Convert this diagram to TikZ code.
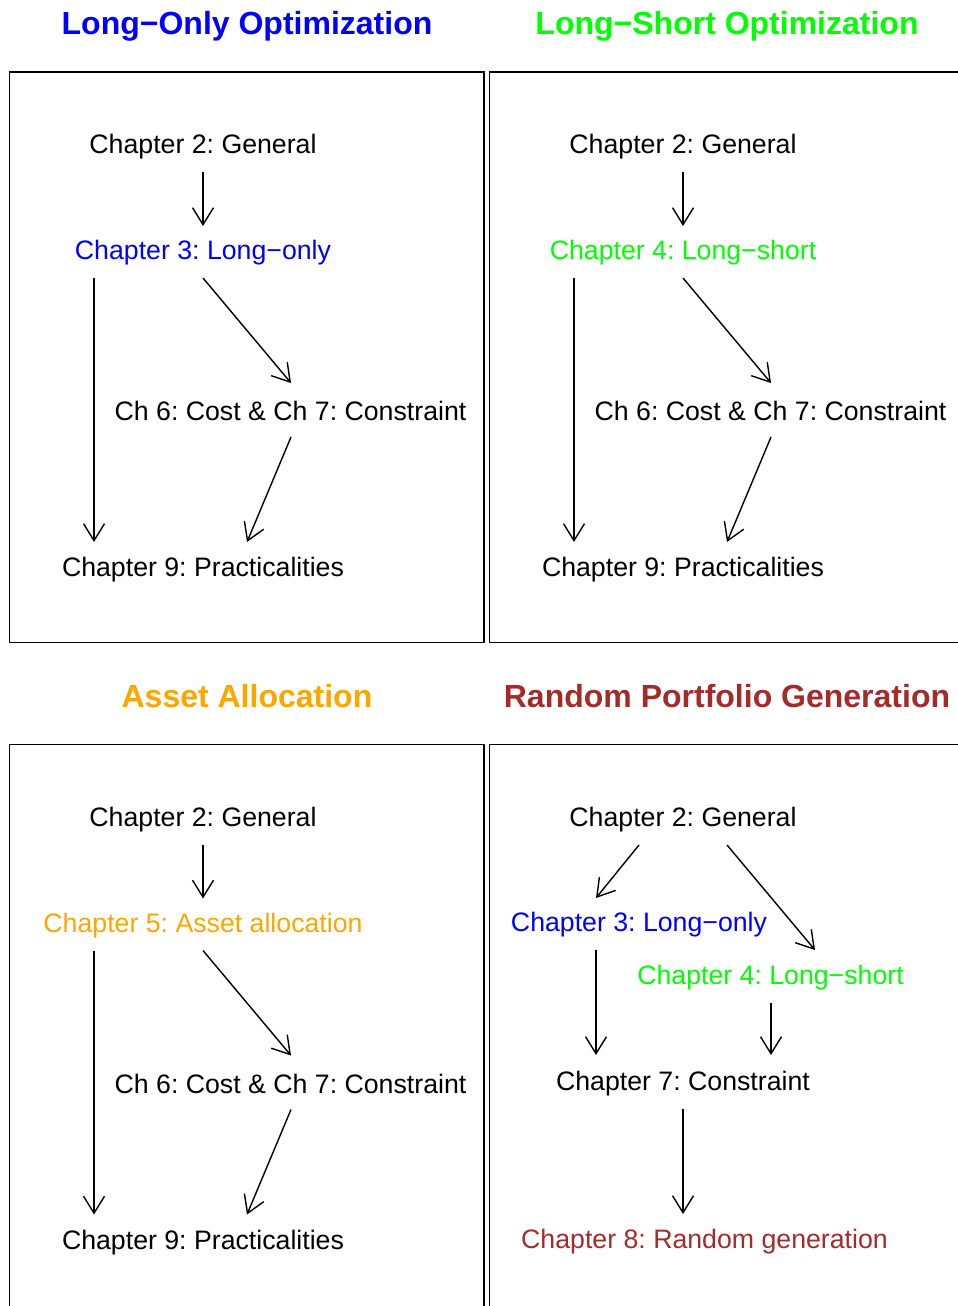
\documentclass[tikz,border=0pt]{standalone}
\usepackage{fontspec}
\setmainfont{Liberation Sans}
\usetikzlibrary{arrows.meta}
\frenchspacing
\definecolor{rblue}{RGB}{0,0,255}
\definecolor{rgreen}{RGB}{0,255,0}
\definecolor{rorange}{RGB}{255,165,0}
\definecolor{rbrown}{RGB}{165,42,42}
\tikzset{
  lbl/.style={font=\fontsize{26.7}{30}\selectfont, inner sep=0pt, anchor=base},
  ttl/.style={font=\fontsize{32}{36}\selectfont\bfseries, inner sep=0pt, anchor=base},
  arr/.style={line width=1.4pt, -{Straight Barb[length=17pt,width=21pt,line width=1.4pt]}},
  panelbox/.style={line width=1.6pt}
}
\newcommand\stdpanel[5]{%
  % #1 prefix, #2 xoff, #3 yoff, #4 colour, #5 text
  \node[lbl] (#1a) at (#2+203,#3+153.5) {Chapter 2: General};
  \node[lbl,text=#4] (#1b) at (#2+203,#3+259.5) {#5};
  \node[lbl] (#1c) at (#2+290.5,#3+420.5) {Ch 6: Cost \& Ch 7: Constraint};
  \node[lbl] (#1d) at (#2+203,#3+576.5) {Chapter 9: Practicalities};
  \draw[arr] ([shift={(0,18.5)}]#1a.base) -- ([shift={(0,-33.5)}]#1b.base);
  \draw[arr] ([shift={(-109,18.5)}]#1b.base) -- ([shift={(-109,-34.5)}]#1d.base);
  \draw[arr] ([shift={(0,18.5)}]#1b.base) -- ([shift={(0.5,-37.5)}]#1c.base);
  \draw[arr] ([shift={(0.5,16.5)}]#1c.base) -- ([shift={(44,-34.5)}]#1d.base);
}
\begin{document}
\begin{tikzpicture}[x=1pt,y=-1pt]
\useasboundingbox (0,0) rectangle (958,1306);
\clip (0,0) rectangle (958,1306);
% frames
\draw[panelbox] (9.5,72.3) rectangle (484,642.3);
\draw[panelbox] (489.5,72.3) rectangle (970,642.3);
\draw[panelbox] (9.5,744.3) rectangle (484,1320);
\draw[panelbox] (489.5,744.3) rectangle (970,1320);
% titles
\node[ttl,text=rblue] (t1) at (247,35) {Long−Only Optimization};
\node[ttl,text=rgreen] (t2) at (727,35) {Long−Short Optimization};
\node[ttl,text=rorange] (t3) at (247,707) {Asset Allocation};
\node[ttl,text=rbrown] (t4) at (727,707) {Random Portfolio Generation};
% panels 1-3
\stdpanel{p}{0}{0}{rblue}{Chapter 3: Long−only}
\stdpanel{q}{480}{0}{rgreen}{Chapter 4: Long−short}
\stdpanel{r}{0}{672.5}{rorange}{Chapter 5: Asset allocation}
% panel 4
\node[lbl] (sa) at (683,826.5) {Chapter 2: General};
\node[lbl,text=rblue] (sb) at (639,931.5) {Chapter 3: Long−only};
\node[lbl,text=rgreen] (sc) at (770.5,984.5) {Chapter 4: Long−short};
\node[lbl] (sd) at (683,1090.5) {Chapter 7: Constraint};
\node[lbl,text=rbrown] (se) at (704.5,1248.5) {Chapter 8: Random generation};
\draw[arr] ([shift={(-44,18.5)}]sa.base) -- ([shift={(-43,-33.5)}]sb.base);
\draw[arr] ([shift={(44,18.5)}]sa.base) -- ([shift={(44.5,-34.5)}]sc.base);
\draw[arr] ([shift={(-43,18.5)}]sb.base) -- ([shift={(-87,-35.5)}]sd.base);
\draw[arr] ([shift={(0.5,18.5)}]sc.base) -- ([shift={(88,-35.5)}]sd.base);
\draw[arr] ([shift={(0,18.5)}]sd.base) -- ([shift={(-21.5,-34.5)}]se.base);
\end{tikzpicture}
\end{document}
